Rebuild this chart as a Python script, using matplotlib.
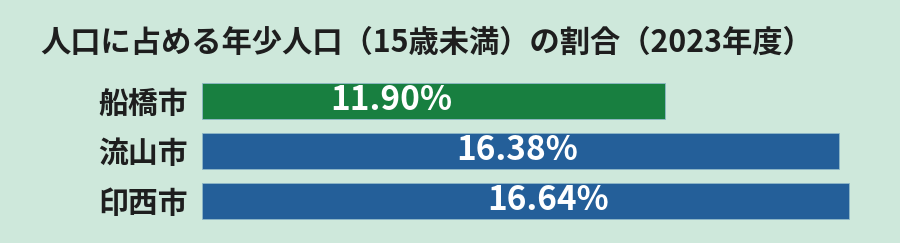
import matplotlib.pyplot as plt

cities = ["船橋市", "流山市", "印西市"]
shares = [11.90, 16.38, 16.64]
colors = ["#187f40", "#245f99", "#245f99"]
title = "人口に占める年少人口（15歳未満）の割合（2023年度）"

plt.rcParams["font.family"] = ["Noto Sans CJK JP", "DejaVu Sans"]

BG = "#cee8db"
fig = plt.figure(figsize=(9, 2.43), dpi=100)
fig.patch.set_facecolor(BG)
ax = fig.add_axes([202 / 900, 0, 698 / 900, 1])
ax.set_facecolor(BG)

ypos = list(range(len(cities)))
ax.barh(ypos, shares, height=0.72, color=colors, edgecolor="#8fb8c8", linewidth=0.6)

# value labels sit a bit left of centre, as in the original
label_frac = [0.41, 0.495, 0.535]
for y, v, f in zip(ypos, shares, label_frac):
    ax.text(v * f, y, f"{v:.2f}%", ha="center", va="center", color="white",
            fontsize=24, fontweight="bold")

ax.set_xlim(0, 698 / 38.9)
ax.set_ylim(2.84, -2.02)
ax.set_yticks(ypos)
ax.set_yticklabels(cities, fontsize=21.5, fontweight="bold", color="#1e1e1e")
ax.tick_params(axis="y", length=0, pad=10)
ax.set_xticks([])
for s in ax.spines.values():
    s.set_visible(False)

fig.text(40 / 900, 1 - 43 / 243, title, ha="left", va="center", fontsize=21.8,
         fontweight="bold", color="#1e1e1e")

fig.savefig("out.png", dpi=100, facecolor=BG)
